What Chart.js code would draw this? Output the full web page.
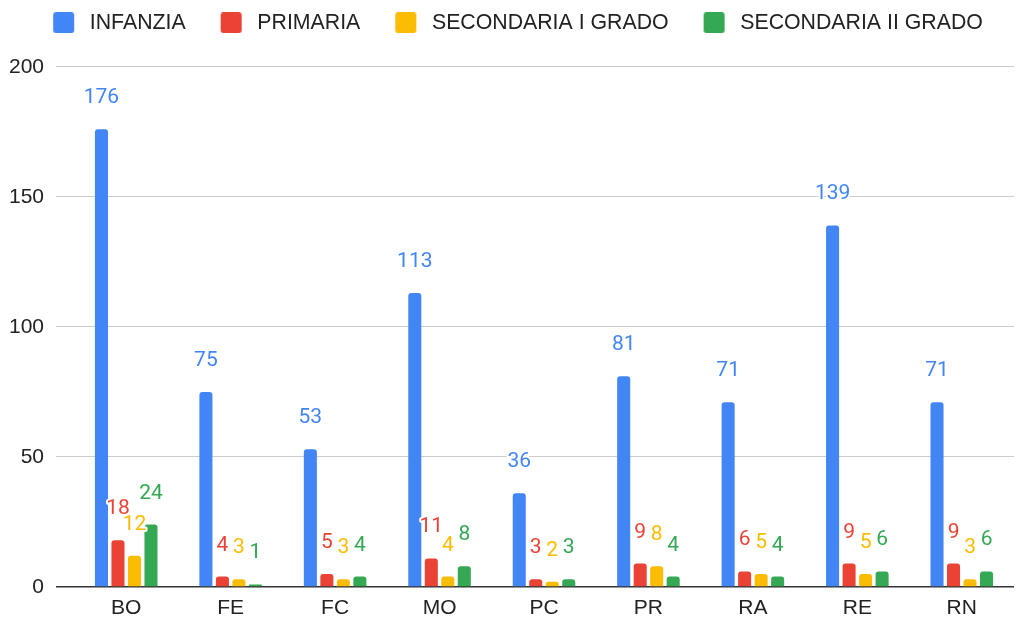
<!DOCTYPE html>
<html>
<head>
<meta charset="utf-8">
<script src="https://cdn.jsdelivr.net/npm/chart.js@4/dist/chart.umd.min.js"></script>
<style>
  html, body { margin: 0; padding: 0; background: #fff; }
  #wrap { width: 1022px; height: 619px; }
</style>
</head>
<body>
<div id="wrap"><canvas id="barChart"></canvas></div>
<script>
// dati del grafico
const province = ['BO', 'FE', 'FC', 'MO', 'PC', 'PR', 'RA', 'RE', 'RN'];
const serie = ['INFANZIA', 'PRIMARIA', 'SECONDARIA I GRADO', 'SECONDARIA II GRADO'];
const infanzia = [176, 75, 53, 113, 36, 81, 71, 139, 71];
const primaria = [18, 4, 5, 11, 3, 9, 6, 9, 9];
const secondariaPrimo = [12, 3, 3, 4, 2, 8, 5, 5, 3];
const secondariaSecondo = [24, 1, 4, 8, 3, 4, 4, 6, 6];
const yTicks = [0, 50, 100, 150, 200];

const colori = ['#4285F4', '#EA4335', '#FBBC04', '#34A853'];
const valori = [infanzia, primaria, secondariaPrimo, secondariaSecondo];

const fontTesto = "'Liberation Sans', Arial, Helvetica, sans-serif";

// quadratino della legenda disegnato su canvas (spazio a sinistra incluso)
function boxLegenda(colore) {
    const c = document.createElement('canvas');
    c.width = 49;
    c.height = 21;
    const g = c.getContext('2d');
    g.fillStyle = colore;
    g.beginPath();
    g.roundRect(23, 0, 21, 21, 3);
    g.fill();
    return c;
}
const boxes = colori.map(boxLegenda);

// etichette dei valori sopra le barre
const etichette = {
    id: 'etichette',
    afterDatasetsDraw(chart) {
        const ctx = chart.ctx;
        ctx.save();
        ctx.font = "21px Roboto, 'Noto Sans', sans-serif";
        ctx.textAlign = 'center';
        ctx.textBaseline = 'alphabetic';
        ctx.lineJoin = 'round';
        chart.data.datasets.forEach((ds, i) => {
            const meta = chart.getDatasetMeta(i);
            meta.data.forEach((bar, j) => {
                const txt = String(ds.data[j]);
                const y = bar.y - 26;
                ctx.strokeStyle = '#fff';
                ctx.lineWidth = 4;
                ctx.strokeText(txt, bar.x, y);
                ctx.fillStyle = colori[i];
                ctx.fillText(txt, bar.x, y);
            });
        });
        ctx.restore();
    }
};

// spazio extra sotto la legenda e leggero spostamento a sinistra
const spazioLegenda = {
    id: 'spazioLegenda',
    beforeInit(chart) {
        const legend = chart.legend;
        const fitOrig = legend.fit;
        legend.fit = function () {
            fitOrig.call(this);
            this.height += 23.5;
        };
        const drawOrig = legend.draw;
        legend.draw = function () {
            this.ctx.save();
            this.ctx.translate(-5, 0);
            drawOrig.call(this);
            this.ctx.restore();
        };
    }
};

const ctx = document.getElementById('barChart').getContext('2d');

new Chart(ctx, {
    type: 'bar',
    data: {
        labels: province,
        datasets: serie.map((nome, i) => ({
            label: nome,
            data: valori[i],
            backgroundColor: colori[i],
            borderRadius: { topLeft: 3, topRight: 3 },
            borderSkipped: 'bottom',
            categoryPercentage: 0.632,
            barPercentage: 0.79
        }))
    },
    options: {
        responsive: true,
        maintainAspectRatio: false,
        animation: false,
        layout: { padding: { left: 9, right: 8, top: 0, bottom: 0 } },
        plugins: {
            tooltip: { enabled: false },
            legend: {
                display: true,
                position: 'top',
                align: 'center',
                labels: {
                    usePointStyle: true,
                    pointStyleWidth: 49,
                    boxHeight: 21,
                    padding: 12,
                    color: '#222',
                    font: { family: fontTesto, size: 21.3 },
                    generateLabels(chart) {
                        return Chart.defaults.plugins.legend.labels.generateLabels(chart)
                            .map((l, i) => Object.assign(l, { pointStyle: boxes[i] }));
                    }
                }
            }
        },
        scales: {
            x: {
                grid: { display: false, drawTicks: false },
                border: { display: false },
                afterFit(scale) { scale.height = 32; },
                ticks: {
                    color: '#222',
                    padding: 8.5,
                    font: { family: fontTesto, size: 21 }
                }
            },
            y: {
                min: 0,
                max: 200,
                afterBuildTicks(axis) {
                    axis.ticks = yTicks.map(v => ({ value: v }));
                },
                afterFit(scale) { scale.width = 65; },
                border: { display: false },
                grid: {
                    color: c => c.tick && c.tick.value === 0 ? '#333' : '#cccccc',
                    lineWidth: c => c.tick && c.tick.value === 0 ? 1.5 : 1,
                    tickLength: 18
                },
                ticks: {
                    color: '#222',
                    padding: 12,
                    font: { family: fontTesto, size: 21 }
                }
            }
        }
    },
    plugins: [etichette, spazioLegenda]
});
</script>
</body>
</html>
